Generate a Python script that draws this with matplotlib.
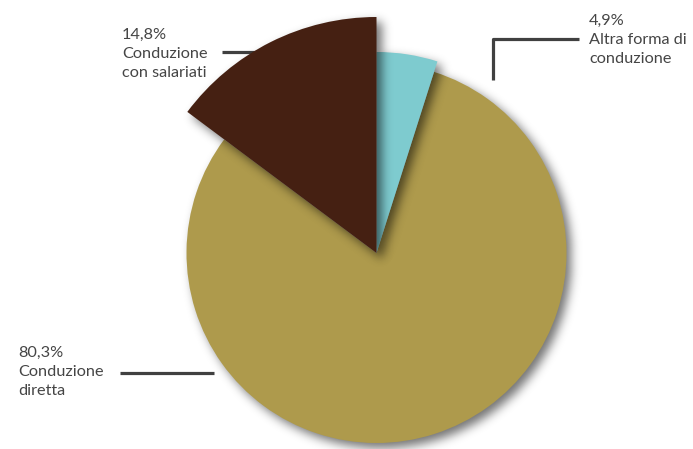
import numpy as np
import matplotlib
matplotlib.use('Agg')
import matplotlib.pyplot as plt
from matplotlib.patches import Wedge

# shares of farms by type of management (clockwise from 12 o'clock)
categories = ['Altra forma di\nconduzione', 'Conduzione\ndiretta', 'Conduzione\ncon salariati']
shares = [4.9, 80.3, 14.8]

colors = ['#7ecbcf', '#ae9a4c', '#452012']
radii = [201, 190, 236]
draw_order = [1, 0, 2]          # diretta at the bottom, salariati on top

W, H = 693, 449
cx, cy = 376.5, 449 - 253

plt.rcParams['font.family'] = ['Lato', 'DejaVu Sans']

fig = plt.figure(figsize=(W / 100, H / 100), dpi=100)
ax = fig.add_axes([0, 0, 1, 1])
ax.set_xlim(0, W)
ax.set_ylim(0, H)
ax.set_aspect('equal')
ax.axis('off')

# wedge angles, going clockwise from the top
ends = 90 - 360 * np.cumsum(shares) / 100
starts = np.concatenate([[90], ends[:-1]])

xs = np.arange(W) + 0.5
ys = H - (np.arange(H) + 0.5)
gx, gy = np.meshgrid(xs, ys)


def blur(a, sigma):
    k = np.arange(-3 * sigma, 3 * sigma + 1)
    k = np.exp(-k ** 2 / (2 * sigma ** 2))
    k /= k.sum()
    a = np.apply_along_axis(lambda r: np.convolve(r, k, mode='same'), 1, a)
    a = np.apply_along_axis(lambda c: np.convolve(c, k, mode='same'), 0, a)
    return a


def shadow(t1, t2, r, dx=5, dy=5, sigma=5, strength=0.55):
    px, py = gx - (cx + dx), gy - (cy - dy)
    ang = np.degrees(np.arctan2(py, px))
    inside = (np.hypot(px, py) <= r) & ((ang - t1) % 360 <= (t2 - t1) % 360)
    a = blur(inside.astype(float), sigma) * strength
    img = np.zeros((H, W, 4))
    img[..., 3] = a
    return img


z = 1
for i in draw_order:
    t1, t2 = ends[i], starts[i]
    ax.imshow(shadow(t1, t2, radii[i]), extent=(0, W, 0, H), origin='upper',
              zorder=z, interpolation='bilinear')
    ax.add_patch(Wedge((cx, cy), radii[i], t1, t2, facecolor=colors[i],
                       edgecolor='none', zorder=z + 1))
    z += 2

labels = [f"{v:.1f}".replace('.', ',') + '%\n' + c for v, c in zip(shares, categories)]
text_pos = [(589, 14), (18, 346), (122, 28)]
for lab, (tx, ty) in zip(labels, text_pos):
    ax.text(tx, H - ty, lab, ha='left', va='top', fontsize=11.7,
            color='#454545', linespacing=1.45, zorder=10)

# leader lines (in pixel rows, flipped to data y)
leaders = [
    ([579, 493, 493], [39, 39, 80]),
    ([120, 214], [373, 373]),
    ([222, 300], [52, 52]),
]
for lx, ly in leaders:
    ax.plot(lx, [H - v for v in ly], color='#404040', lw=2.3,
            solid_capstyle='butt', zorder=0.5)

fig.savefig('out.png', dpi=100)
